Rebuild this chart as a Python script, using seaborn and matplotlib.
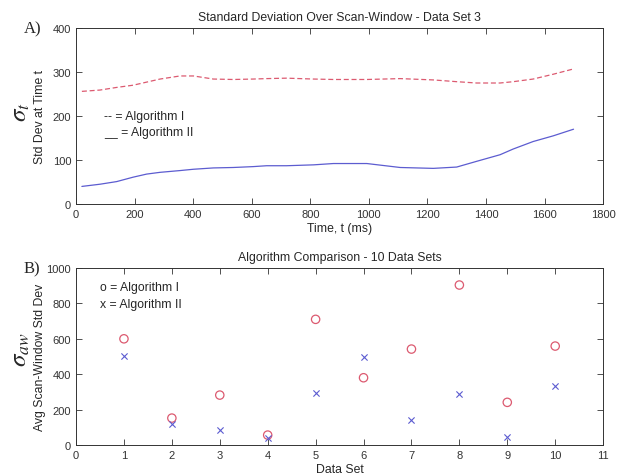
import matplotlib
matplotlib.use("Agg")
import matplotlib.pyplot as plt
import seaborn as sns
from pandas import DataFrame

# panel A - std dev over scan window, data set 3
time_ms = [20, 82, 139, 195, 241, 287, 355, 401, 469, 537, 605, 651, 719, 811,
           879, 993, 1107, 1220, 1300, 1368, 1448, 1493, 1561, 1630, 1699]
alg1_std = [256, 259, 265, 270, 277, 284, 291, 291, 284, 283, 284, 285, 286, 284,
            283, 283, 285, 282, 278, 275, 275, 278, 284, 295, 307]
alg2_std = [40, 45, 51, 61, 68, 72, 76, 79, 82, 83, 85, 87, 87, 89,
            92, 92, 83, 81, 84, 97, 112, 125, 142, 155, 170]

# panel B - average over 10 data sets
data_set = [1, 2, 3, 4, 5, 6, 7, 8, 9, 10]
alg1_avg = [600, 152, 282, 56, 710, 380, 542, 904, 241, 559]
alg2_avg = [505, 119, 85, 40, 296, 495, 141, 290, 45, 333]

RED = "#dc5a70"
BLUE = "#5c5cd0"
TXT = 8.8

sns.set_theme(style="ticks")
plt.rcParams['font.family'] = ['Liberation Sans', 'DejaVu Sans']
plt.rcParams['mathtext.fontset'] = 'stix'
plt.rcParams.update({
    "xtick.direction": "in", "ytick.direction": "in",
    "xtick.top": True, "ytick.right": True,
    "xtick.major.size": 4, "ytick.major.size": 4,
    "xtick.major.width": 0.6, "ytick.major.width": 0.6,
    "axes.linewidth": 0.7, "axes.edgecolor": "#333333",
    "xtick.color": "#333333", "ytick.color": "#333333",
    "font.size": TXT, "xtick.labelsize": 8, "ytick.labelsize": 8,
})

fig = plt.figure(figsize=(6.32, 4.77), dpi=100)
ax1 = fig.add_axes([0.1203, 0.5702, 0.834, 0.369])
ax2 = fig.add_axes([0.1203, 0.065, 0.834, 0.371])

df_t = DataFrame({"t": time_ms, "a1": alg1_std, "a2": alg2_std})
sns.lineplot(x="t", y="a1", data=df_t, ax=ax1, color=RED, linewidth=0.9,
             linestyle=(0, (4, 2.2)))
sns.lineplot(x="t", y="a2", data=df_t, ax=ax1, color=BLUE, linewidth=0.9)
ax1.set_xlim(0, 1800)
ax1.set_ylim(0, 400)
ax1.set_xticks(range(0, 1801, 200))
ax1.set_yticks(range(0, 401, 100))
ax1.set_xlabel("Time, t (ms)", fontsize=TXT, labelpad=2)
ax1.set_ylabel("")
ax1.set_title("Standard Deviation Over Scan-Window - Data Set 3", fontsize=TXT, pad=6)
ax1.text(0.053, 0.50, "-- = Algorithm I", transform=ax1.transAxes, fontsize=TXT, va="center")
ax1.text(0.053, 0.41, "__ = Algorithm II", transform=ax1.transAxes, fontsize=TXT, va="center")

df_b = DataFrame({"ds": data_set, "a1": alg1_avg, "a2": alg2_avg})
sns.scatterplot(x="ds", y="a1", data=df_b, ax=ax2, marker="o", s=36,
                facecolors="none", edgecolor=RED, linewidth=0.9)
sns.scatterplot(x="ds", y="a2", data=df_b, ax=ax2, marker="x", s=20,
                color=BLUE, linewidth=0.8)
ax2.set_xlim(0, 11)
ax2.set_ylim(0, 1000)
ax2.set_xticks(range(0, 12))
ax2.set_yticks(range(0, 1001, 200))
ax2.set_xlabel("Data Set", fontsize=TXT, labelpad=2)
ax2.set_ylabel("")
ax2.set_title("Algorithm Comparison - 10 Data Sets", fontsize=TXT, pad=6)
ax2.text(0.046, 0.893, "o = Algorithm I", transform=ax2.transAxes, fontsize=TXT, va="center")
ax2.text(0.046, 0.797, "x = Algorithm II", transform=ax2.transAxes, fontsize=TXT, va="center")

for ax in (ax1, ax2):
    for sp in ax.spines.values():
        sp.set_visible(True)

# y labels: greek symbol plus descriptive text
fig.text(40 / 632, 1 - 117 / 477, "Std Dev at Time t", rotation=90, fontsize=TXT,
         ha="center", va="center")
fig.text(20 / 632, 1 - 112 / 477, r"$\sigma_t$", rotation=90, fontsize=18,
         ha="center", va="center")
fig.text(40 / 632, 1 - 357 / 477, "Avg Scan-Window Std Dev", rotation=90, fontsize=TXT,
         ha="center", va="center")
fig.text(20 / 632, 1 - 350 / 477, r"$\sigma_{aw}$", rotation=90, fontsize=18,
         ha="center", va="center")

# panel letters
fig.text(24 / 632, 1 - 29 / 477, "A)", fontsize=12, family="Liberation Serif",
         ha="left", va="center")
fig.text(24 / 632, 1 - 269 / 477, "B)", fontsize=12, family="Liberation Serif",
         ha="left", va="center")

fig.savefig("out.png", dpi=100)
plt.close()
